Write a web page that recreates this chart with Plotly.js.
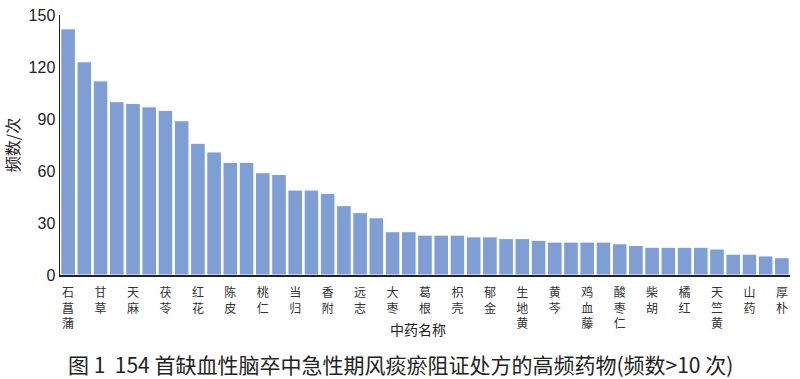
<!DOCTYPE html>
<html><head><meta charset="utf-8">
<script src="https://cdn.plot.ly/plotly-3.0.1.min.js"></script>
<style>body{margin:0;background:#fff}#c{width:800px;height:379px}</style>
</head><body><div id="c"></div>
<script>
// rank of each bar (45 herbs, sorted by frequency)
const ranks = [1,2,3,4,5,6,7,8,9,10,11,12,13,14,15,16,17,18,19,20,21,22,23,24,25,26,27,28,29,30,31,32,33,34,35,36,37,38,39,40,41,42,43,44,45];
const freq = [142,123,112,100,99,97,95,89,76,71,65,65,59,58,49,49,47,40,36,33,25,25,23,23,23,22,22,21,21,20,19,19,19,19,18,17,16,16,16,16,15,12,12,11,10];
// labelled ranks (every other bar) and their herb names
const labelRanks = [1,3,5,7,9,11,13,15,17,19,21,23,25,27,29,31,33,35,37,39,41,43,45];
const labelNames = ["石菖蒲","甘草","天麻","茯苓","红花","陈皮","桃仁","当归","香附","远志","大枣","葛根","枳壳","郁金","生地黄","黄芩","鸡血藤","酸枣仁","柴胡","橘红","天竺黄","山药","厚朴"];
const yTicks = [0,30,60,90,120,150];

const cjk = '"Noto Sans CJK SC", sans-serif';
const trace = {
  type:'bar', x:ranks, y:freq,
  marker:{color:'#7f9fd4', line:{color:'#ffffff', width:1}},
  hoverinfo:'skip'
};
const layout = {
  width:800, height:379,
  margin:{l:60, r:10, t:15, b:104},
  paper_bgcolor:'#ffffff', plot_bgcolor:'#ffffff',
  showlegend:false, bargap:0.1,
  xaxis:{
    range:[0.5,45.5], tickmode:'array', tickvals:labelRanks,
    ticktext:labelNames.map(s=>s.split('').join('<br>')),
    tickangle:0, ticks:'', showgrid:false, zeroline:false,
    showline:true, linecolor:'#222', linewidth:1.5, ticklabelstandoff:6,
    tickfont:{family:cjk, size:12, color:'#333'}
  },
  yaxis:{
    range:[0,150], tickmode:'array', tickvals:yTicks,
    ticks:'', showgrid:false, zeroline:false,
    showline:true, linecolor:'#222', linewidth:1.5,
    tickfont:{family:'"Liberation Sans", sans-serif', size:16, color:'#222'},
    title:{text:'频数/次', font:{family:cjk, size:16, color:'#222'}, standoff:10}
  },
  annotations:[
    {text:'中药名称', xref:'paper', yref:'paper', x:0.49, y:0, yshift:-54, xanchor:'center', yanchor:'middle', showarrow:false,
     font:{family:cjk, size:14, color:'#222'}},
    {text:'图 1  154 首缺血性脑卒中急性期风痰瘀阻证处方的高频药物(频数>10 次)', xref:'paper', yref:'paper', x:0.467, y:0, yshift:-89,
     xanchor:'center', yanchor:'middle', showarrow:false, font:{family:cjk, size:21, color:'#222'}}
  ]
};
Plotly.newPlot('c',[trace],layout,{staticPlot:true});
</script></body></html>
